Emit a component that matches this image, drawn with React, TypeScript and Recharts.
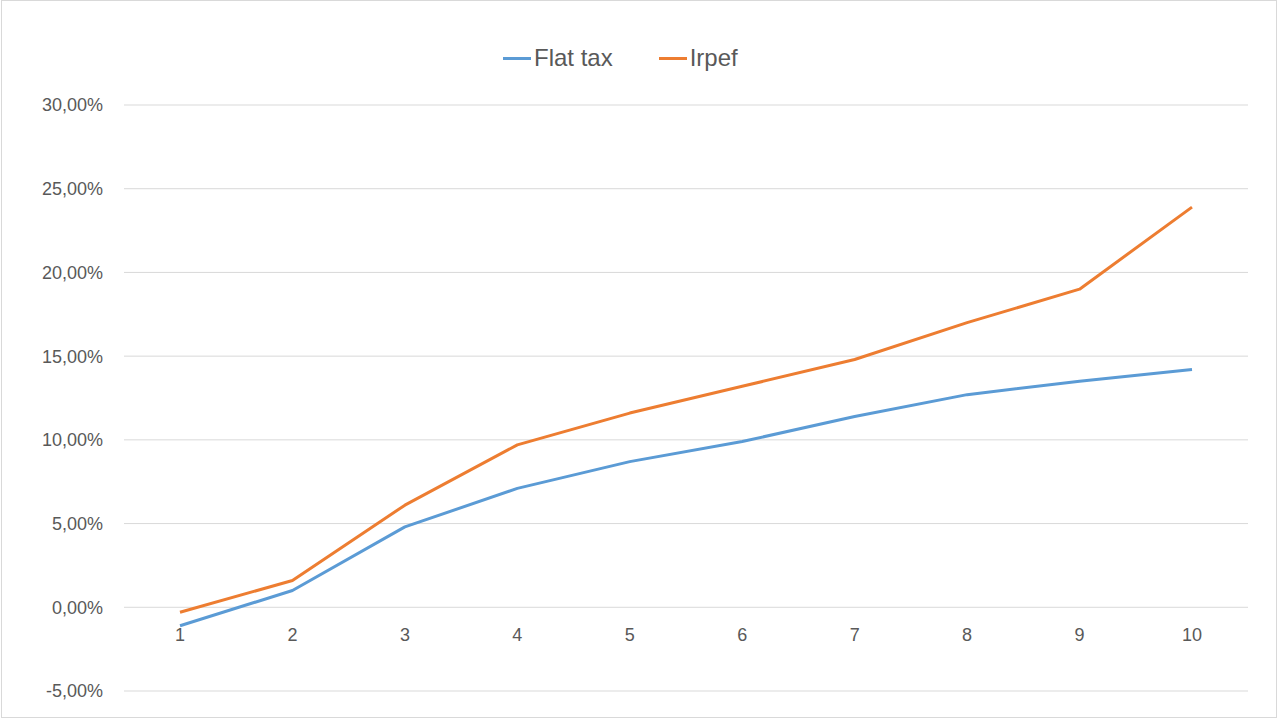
import { LineChart, Line, XAxis, YAxis, CartesianGrid, ReferenceDot } from 'recharts';

const categories = ['1', '2', '3', '4', '5', '6', '7', '8', '9', '10'];
const flatTax = [-1.1, 1.0, 4.8, 7.1, 8.7, 9.9, 11.4, 12.7, 13.5, 14.2];
const irpef = [-0.3, 1.6, 6.1, 9.7, 11.6, 13.2, 14.8, 17.0, 19.0, 23.9];
const yTicks = [-5, 0, 5, 10, 15, 20, 25, 30];

const seriesNames = ['Flat tax', 'Irpef'];
const seriesColors = ['#5B9BD5', '#ED7D31'];

const data = categories.map((c, i) => ({ cat: c, flat: flatTax[i], irpef: irpef[i] }));

const fmtPct = (v: number) => v.toFixed(2).replace('.', ',') + '%';
const FONT = '"Liberation Sans", Arial, sans-serif';
const TEXT = '#595959';

export default function App() {
  return (
    <div style={{ position: 'fixed', left: 0, top: 0, width: 1280, height: 720, background: '#fff', fontFamily: FONT }}>
      {/* outer chart border */}
      <div style={{ position: 'absolute', left: 1, top: 0, width: 1276, height: 718, border: '1px solid #d9d9d9', boxSizing: 'border-box' }} />

      {/* legend */}
      <div style={{ position: 'absolute', left: 503, top: 44, display: 'flex', alignItems: 'center', gap: 46, height: 28 }}>
        {seriesNames.map((n, i) => (
          <span key={n} style={{ display: 'flex', alignItems: 'center', color: TEXT, fontSize: 24 }}>
            <span style={{ width: 28, height: 3, background: seriesColors[i], marginRight: 3, display: 'inline-block' }} />
            {n}
          </span>
        ))}
      </div>

      <LineChart width={1280} height={720} data={data} margin={{ top: 105, right: 32, bottom: 29, left: 0 }}>
        <CartesianGrid stroke="#d9d9d9" vertical={false} />
        {/* half-band padding so points sit in the middle of each category, like Excel */}
        <XAxis dataKey="cat" hide padding={{ left: 56, right: 56 }} />
        <YAxis
          width={124}
          domain={[-5, 30]}
          ticks={yTicks}
          tickFormatter={fmtPct}
          axisLine={false}
          tickLine={false}
          tickSize={0}
          tickMargin={21}
          tick={{ fontSize: 18, fill: TEXT, fontFamily: FONT }}
        />
        <Line dataKey="flat" name={seriesNames[0]} stroke={seriesColors[0]} strokeWidth={3} dot={false} isAnimationActive={false} strokeLinejoin="round" />
        <Line dataKey="irpef" name={seriesNames[1]} stroke={seriesColors[1]} strokeWidth={3} dot={false} isAnimationActive={false} strokeLinejoin="round" />
        {/* category labels sit under the zero line */}
        {categories.map((c) => (
          <ReferenceDot
            key={c}
            x={c}
            y={0}
            r={0}
            ifOverflow="visible"
            shape={(p: any) => (
              <text x={p.cx} y={p.cy + 34} textAnchor="middle" fontSize={18} fill={TEXT} fontFamily={FONT}>
                {c}
              </text>
            )}
          />
        ))}
      </LineChart>
    </div>
  );
}
